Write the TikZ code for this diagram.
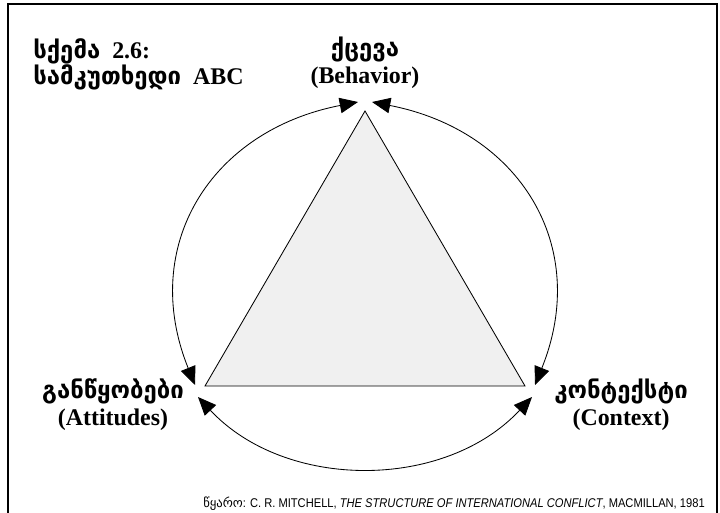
\documentclass[tikz,border=0pt]{standalone}
\usepackage{fontspec}
\setmainfont{Liberation Serif}
\newfontfamily\geofont{DejaVu Sans}
\newfontfamily\notefont[FakeStretch=0.88]{Liberation Sans}
\usetikzlibrary{arrows.meta}
\newcommand{\ka}[1]{{\geofont #1}}

\begin{document}
\begin{tikzpicture}[
    x=0.025cm, y=0.025cm,
    lbl/.style={align=center, font=\fontsize{17}{19}\selectfont\bfseries, inner sep=0pt},
    arr/.style={{Triangle[length=13pt,width=11pt]}-{Triangle[length=13pt,width=11pt]}, line width=0.6pt},
    tri/.style={draw, line width=0.6pt, fill=black!6}
]
\useasboundingbox (0,0) rectangle (720,512);
\draw[line width=1.2pt] (8,-20) rectangle (717,508);
\node[lbl, anchor=north west, align=left] (title) at (33,474) {\ka{სქემა}~~2.6:\\\ka{სამკუთხედი}~~ABC};
\node[lbl] (behav) at (365,449) {\ka{ქცევა}\\(Behavior)};
\node[lbl] (attit) at (113,107) {\ka{განწყობები}\\(Attitudes)};
\node[lbl] (context) at (621,107) {\ka{კონტექსტი}\\(Context)};
\node[anchor=base east, inner sep=0pt, font=\notefont\fontsize{9}{11}\selectfont] (source) at (705,5)
    {{\geofont წყარო}: C. R. MITCHELL, \textit{THE STRUCTURE OF INTERNATIONAL CONFLICT}, MACMILLAN, 1981};
\coordinate (apex) at (365,401);
\coordinate (bl) at (205,126);
\coordinate (br) at (525,126);
\draw[tri] (apex) -- (bl) -- (br) -- cycle;
\coordinate (tl) at (358,410);
\coordinate (tr) at (372,410);
\coordinate (lt) at (195,127);
\coordinate (rt) at (535,127);
\coordinate (lb) at (198,115);
\coordinate (rb) at (532,115);
\draw[arr] (tl) .. controls +(191:150) and +(112:150) .. (lt);
\draw[arr] (tr) .. controls +(-11:150) and +(68:150) .. (rt);
\draw[arr] (lb) .. controls +(-47:128) and +(227:128) .. (rb);
\end{tikzpicture}
\end{document}
